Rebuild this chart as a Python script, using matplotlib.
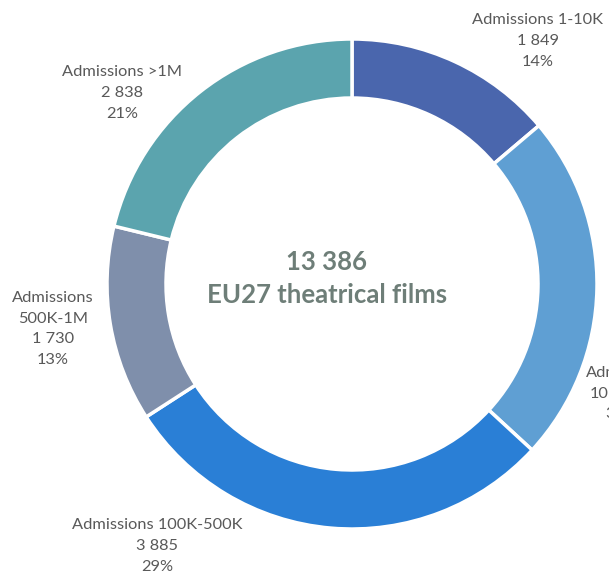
import matplotlib.pyplot as plt

categories = ['Admissions 1-10K', 'Admissions\n10K-100K', 'Admissions 100K-500K',
              'Admissions\n500K-1M', 'Admissions >1M']
values = [1849, 3084, 3885, 1730, 2838]
colors = ['#4a66ad', '#5f9fd3', '#2a7fd6', '#7f8fab', '#5ba4ae']
total = sum(values)

# label anchor positions (pixels, top-left origin)
label_pos = [(538, 41), (627, 404), (157, 546), (53, 329), (122, 93)]

W, H = 609, 576
fig = plt.figure(figsize=(W / 100, H / 100), dpi=100)
ax = fig.add_axes([0, 0, 1, 1])

cx, cy, R = 352, H - 284, 245
ax.pie(values, colors=colors, startangle=90, counterclock=False,
       center=(cx, cy), radius=R, frame=True,
       wedgeprops=dict(width=59, edgecolor='white', linewidth=2.5))
ax.set_xlim(0, W)
ax.set_ylim(0, H)
ax.set_aspect('equal')
ax.axis('off')

for cat, v, (x, y) in zip(categories, values, label_pos):
    pct = round(v / total * 100)
    num = '{:,}'.format(v).replace(',', ' ')
    ax.text(x, H - y, '{}\n{}\n{}%'.format(cat, num, pct), ha='center', va='center',
            fontsize=11.8, color='#595959', family='Lato', linespacing=1.62)

ax.text(327, H - 262, '{:,}'.format(total).replace(',', ' '), ha='center', va='center',
        fontsize=18.5, fontweight='bold', color='#6e7e78', family='Lato')
ax.text(327, H - 295, 'EU27 theatrical films', ha='center', va='center',
        fontsize=18.5, fontweight='bold', color='#6e7e78', family='Lato')

fig.savefig('out.png', dpi=100)
